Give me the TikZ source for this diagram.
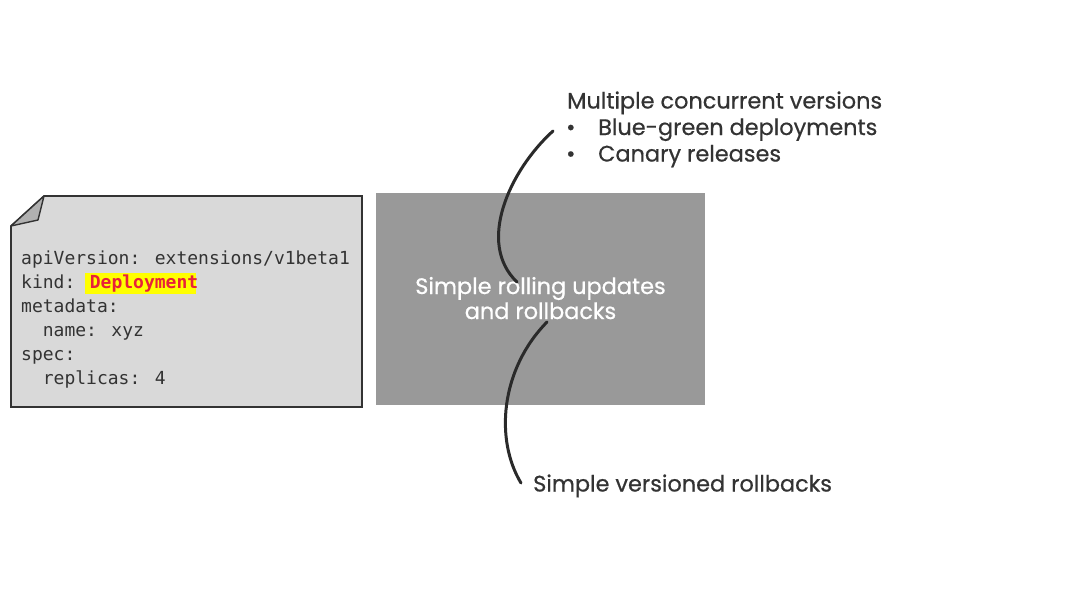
\documentclass[tikz,border=0pt]{standalone}
\usepackage{fontspec}
\setmainfont{Poppins}
\newfontfamily\labelfont{Poppins}[FakeBold=0.6]
\newfontfamily\codefont{DejaVu Sans Mono}
\definecolor{txt}{HTML}{333333}
\definecolor{docfill}{HTML}{D9D9D9}
\definecolor{foldfill}{HTML}{B0B0B0}
\definecolor{boxfill}{HTML}{999999}
\definecolor{hl}{HTML}{FFFF00}
\definecolor{kindred}{HTML}{E8213A}
\definecolor{curve}{HTML}{2A2A2A}
\tikzset{
  codeline/.style={anchor=base west, inner sep=0pt, text=txt, font=\codefont\fontsize{18}{24}\selectfont},
  label/.style={anchor=base west, inner sep=0pt, text=txt, font=\labelfont\fontsize{22.4}{26}\selectfont},
  boxtext/.style={anchor=base, inner sep=0pt, text=white, font=\labelfont\fontsize{22.4}{26}\selectfont},
  curveline/.style={draw=curve, line width=3pt, line cap=round},
}
\begin{document}
\begin{tikzpicture}[x=1pt,y=-1pt]
\useasboundingbox (0,0) rectangle (1068,600);
% document
\draw[draw=txt, line width=1.6pt, fill=docfill, line join=miter]
  (44,196) -- (362,196) -- (362,407) -- (11,407) -- (11,226) -- cycle;
\draw[draw=txt, line width=1.4pt, fill=foldfill, line join=round]
  (11,226) -- (44,196) -- (38,220) -- cycle;
% highlight
\fill[hl] (85,273) rectangle (196,294);
\node[codeline] (l1) at (21,264.5) {apiVersion: extensions/v1beta1};
\node[codeline] (l2) at (21,288.5) {kind: \textcolor{kindred}{\bfseries Deployment}};
\node[codeline] (l3) at (21,312.5) {metadata:};
\node[codeline] (l4) at (21,336.5) {\ \ name: xyz};
\node[codeline] (l5) at (21,360.5) {spec:};
\node[codeline] (l6) at (21,384.5) {\ \ replicas: 4};
% gray box
\fill[boxfill] (376,193) rectangle (705,405);
\node[boxtext] (t1) at (540.5,294) {Simple rolling updates};
\node[boxtext] (t2) at (540.5,319) {and rollbacks};
% right labels
\node[label] (m) at (567,108.5) {Multiple concurrent versions};
\node[label] (b1d) at (566,135) {\textbullet};
\node[label] (b1) at (598,135) {Blue-green deployments};
\node[label] (b2d) at (566,161.5) {\textbullet};
\node[label] (b2) at (598,161.5) {Canary releases};
\node[label] (s) at (533,491.5) {Simple versioned rollbacks};
% curves
\coordinate (c1a) at (553,131);
\coordinate (c1b) at (517,282);
\coordinate (c2a) at (547,322);
\coordinate (c2b) at (521,483);
\draw[curveline] (c1a) .. controls (510,170) and (476,243) .. (c1b);
\draw[curveline] (c2a) .. controls (500,370) and (495,440) .. (c2b);
\end{tikzpicture}
\end{document}
